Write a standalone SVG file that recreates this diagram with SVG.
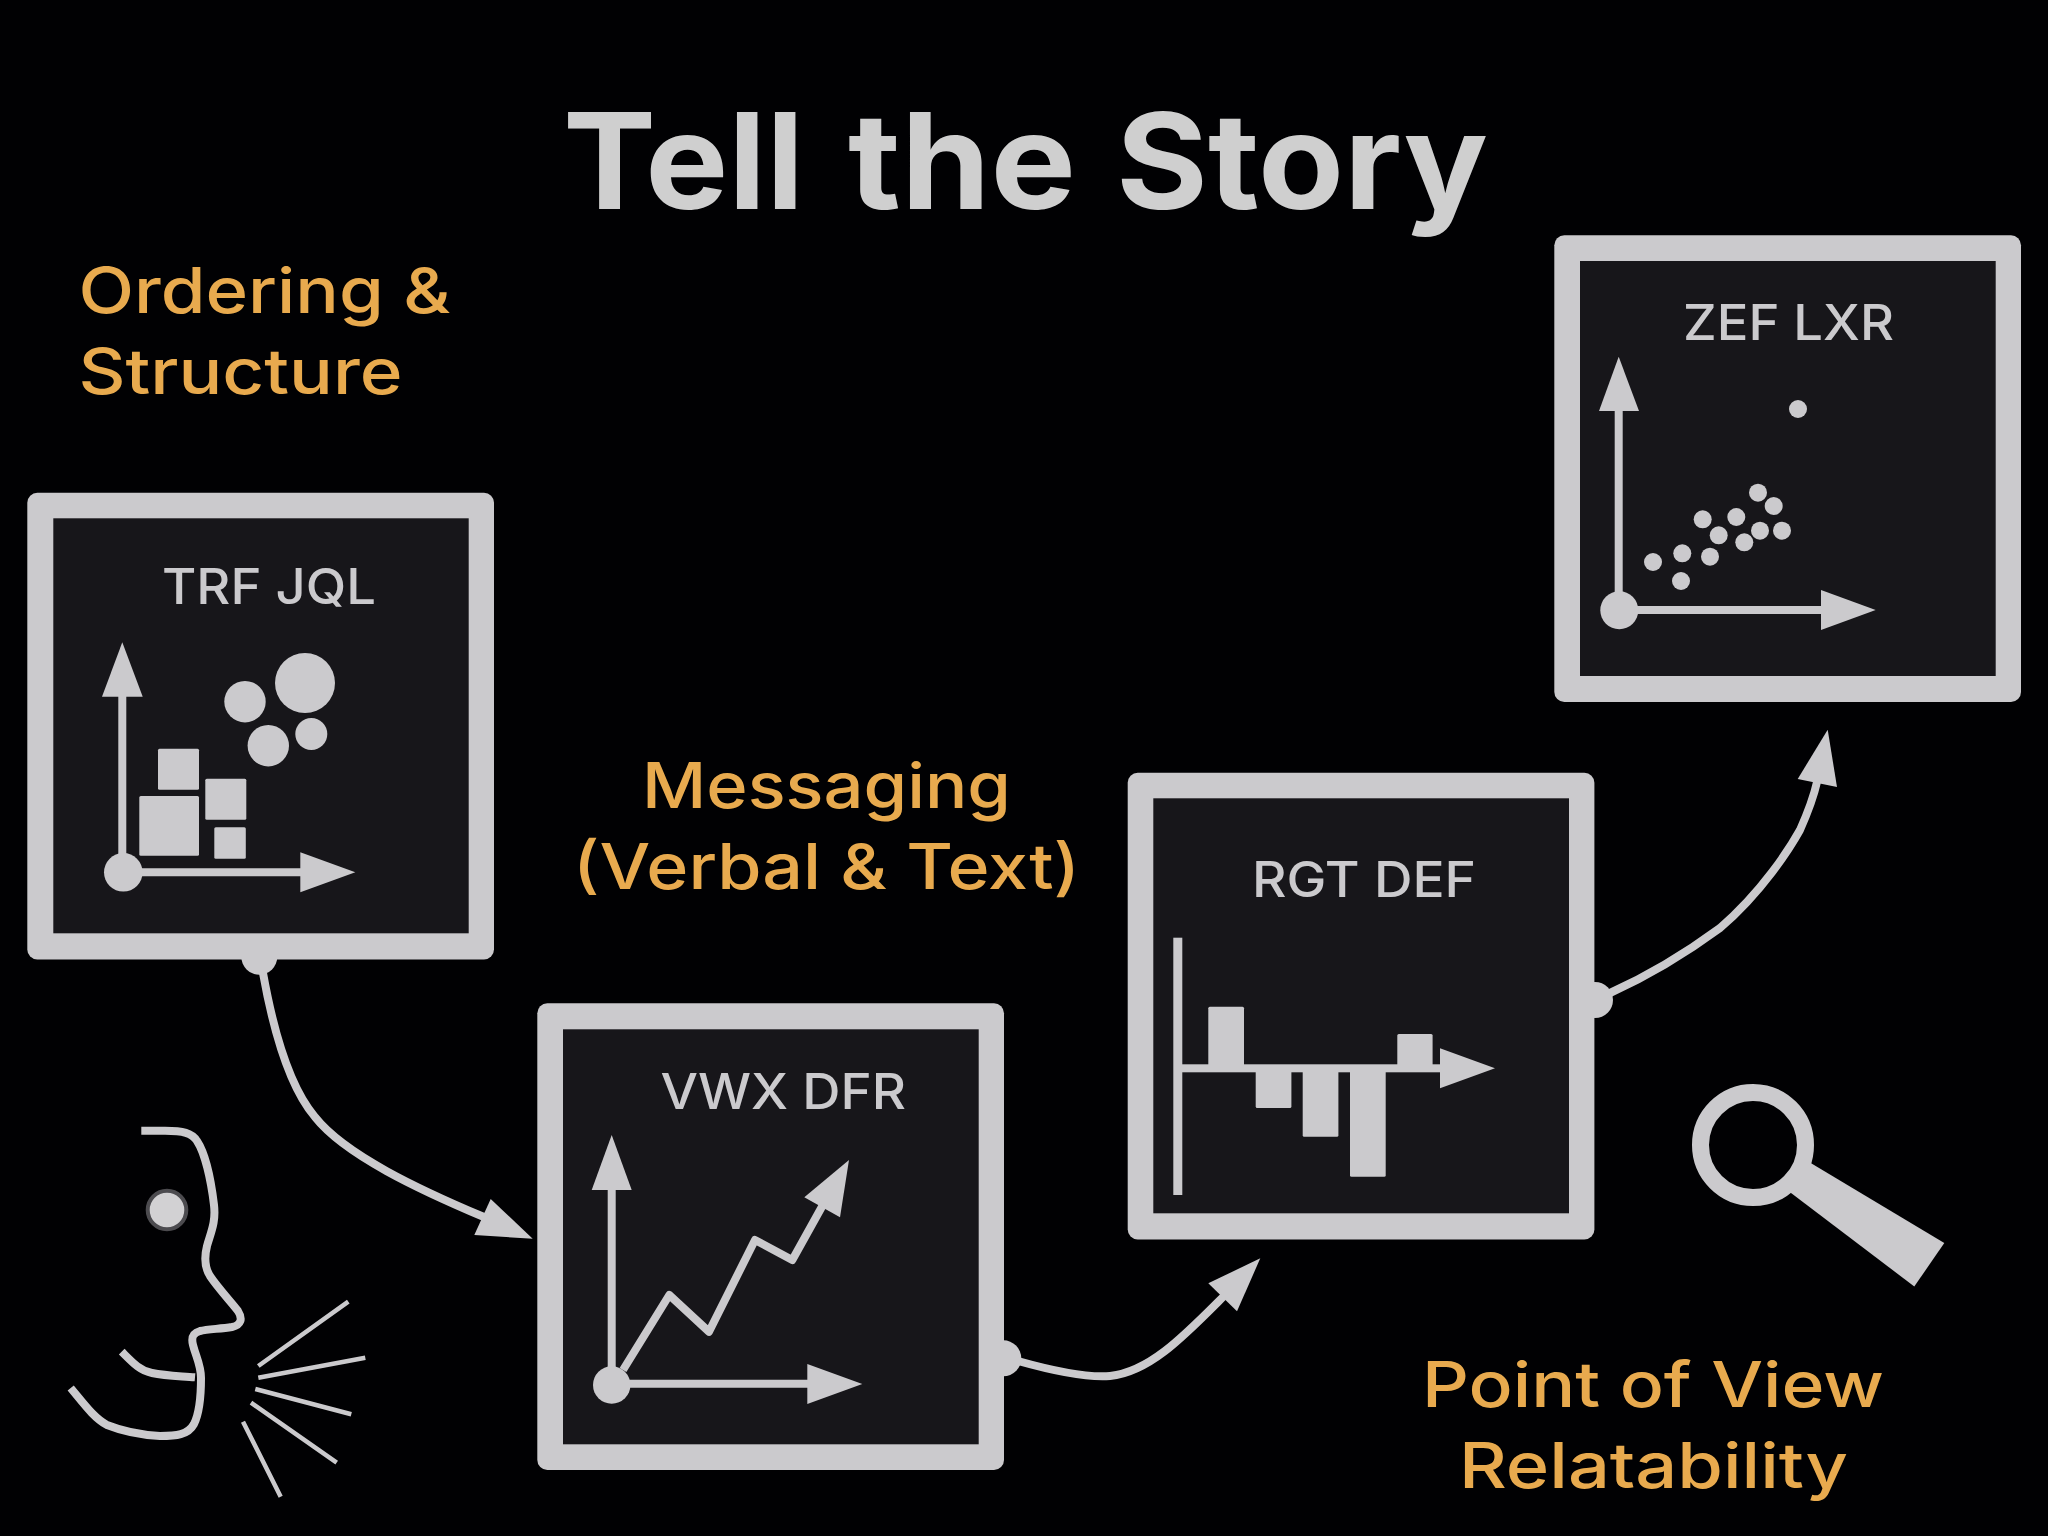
<svg xmlns="http://www.w3.org/2000/svg" width="2048" height="1536" viewBox="0 0 2048 1536">
<style>
.fg{fill:#cbcacd}
.panel{fill:#17161a}
.wire{fill:none;stroke:#cbcacd;stroke-width:8}
.ax{fill:none;stroke:#cbcacd;stroke-width:8}
.ray{stroke:#cbcacd;stroke-width:4.5;fill:none}
.face{fill:none;stroke:#cbcacd;stroke-width:8}
text{font-family:Inter,"Liberation Sans",sans-serif}
.title{font-size:133px;font-weight:700;fill:#cfcfcf}
.lab{font-size:63px;font-weight:500;fill:#e8aa4e}
.nm{font-size:50px;font-weight:500;fill:#cbcacd}
</style>
<rect width="2048" height="1536" fill="#010103"/>
<text id="title" class="title" y="209"><tspan x="563" textLength="241" lengthAdjust="spacingAndGlyphs">Tell</tspan> <tspan x="848" textLength="228" lengthAdjust="spacingAndGlyphs">the</tspan> <tspan x="1116" textLength="372" lengthAdjust="spacingAndGlyphs">Story</tspan></text>
<g id="label-ordering">
<text class="lab" x="78.5" y="313" textLength="372" lengthAdjust="spacingAndGlyphs">Ordering &amp;</text>
<text class="lab" x="78.5" y="394" textLength="324" lengthAdjust="spacingAndGlyphs">Structure</text>
</g>
<g id="label-messaging">
<text class="lab" x="642" y="808" textLength="369" lengthAdjust="spacingAndGlyphs">Messaging</text>
<text class="lab" x="573" y="889" textLength="507" lengthAdjust="spacingAndGlyphs">(Verbal &amp; Text)</text>
</g>
<g id="label-pov">
<text class="lab" x="1422" y="1407" textLength="462" lengthAdjust="spacingAndGlyphs">Point of View</text>
<text class="lab" x="1459" y="1488" textLength="389" lengthAdjust="spacingAndGlyphs">Relatability</text>
</g>
<g id="connectors">
<path class="wire" d="M263,973C275,1040 292,1090 315,1117C345,1155 420,1190 484,1217"/>
<polygon class="fg" points="532.7,1238.7 490.7,1199 474.3,1235"/>
<circle class="fg" cx="259.3" cy="956.7" r="18"/>
<path class="wire" d="M1018,1361C1050,1370 1085,1378 1110,1376C1150,1372 1185,1335 1224,1296"/>
<polygon class="fg" points="1260.3,1258.3 1208.3,1283.3 1237,1311.3"/>
<circle class="fg" cx="1003.3" cy="1358.3" r="18"/>
<path class="wire" d="M1610,993C1650,975 1690,950 1720,928C1762,892 1790,848 1800,830C1808,812 1813,800 1817,782"/>
<polygon class="fg" points="1827.7,729.7 1797.7,779 1837,787"/>
<circle class="fg" cx="1595" cy="1000" r="18"/>
</g>
<g id="node-trf">
<rect class="fg" x="27.3" y="492.7" width="466.7" height="466.7" rx="10"/>
<rect class="panel" x="53.3" y="518.3" width="415.4" height="415"/>
<text class="nm" x="162" y="604" textLength="214" lengthAdjust="spacingAndGlyphs">TRF JQL</text>
<path class="ax" d="M122.3,690V872M123,872.3H305"/>
<polygon class="fg" points="122.3,642.3 102,696.7 142.7,696.7"/>
<polygon class="fg" points="355.3,872.3 300.3,852.3 300.3,892.3"/>
<circle class="fg" cx="123.3" cy="872.3" r="19.3"/>
<circle class="fg" cx="305" cy="683" r="30"/>
<circle class="fg" cx="245" cy="701.7" r="20.7"/>
<circle class="fg" cx="268.3" cy="745.7" r="20.7"/>
<circle class="fg" cx="311.3" cy="734" r="16"/>
<rect class="fg" x="158" y="748.7" width="41" height="41" rx="1.5"/>
<rect class="fg" x="139.3" y="796" width="59.7" height="59.7" rx="1.5"/>
<rect class="fg" x="205.3" y="778.7" width="41" height="41" rx="1.5"/>
<rect class="fg" x="214.3" y="827.3" width="31.5" height="31.5" rx="1.5"/>
</g>
<g id="node-vwx">
<rect class="fg" x="537.3" y="1003.3" width="466.7" height="466.7" rx="10"/>
<rect class="panel" x="563" y="1029.3" width="415.7" height="415"/>
<text class="nm" x="660.5" y="1109" textLength="245.5" lengthAdjust="spacingAndGlyphs">VWX DFR</text>
<path class="ax" d="M611.7,1185V1385M612,1383.7H812"/>
<polygon class="fg" points="611.7,1135 591.7,1190 631.7,1190"/>
<polygon class="fg" points="862.3,1384 807.3,1364 807.3,1404"/>
<circle class="fg" cx="611.7" cy="1385" r="18.7"/>
<polyline class="ax" stroke-linejoin="round" points="623,1370 669.3,1295 709,1331.7 755,1240 792.3,1260 824,1203"/>
<polygon class="fg" points="849,1160 804.3,1197.3 840,1217.3"/>
</g>
<g id="node-rgt">
<rect class="fg" x="1127.7" y="772.7" width="466.7" height="466.7" rx="10"/>
<rect class="panel" x="1153.3" y="798.3" width="415.7" height="415"/>
<text class="nm" x="1252" y="896.7" textLength="224" lengthAdjust="spacingAndGlyphs">RGT DEF</text>
<rect class="fg" x="1173.3" y="937.7" width="9" height="257.3"/>
<rect class="fg" x="1182" y="1064.3" width="262" height="8"/>
<polygon class="fg" points="1495,1068.3 1440,1048.3 1440,1088.3"/>
<rect class="fg" x="1208.3" y="1006.7" width="35.7" height="60" rx="1.5"/>
<rect class="fg" x="1255.7" y="1070" width="35.7" height="38" rx="1.5"/>
<rect class="fg" x="1302.7" y="1070" width="35.7" height="66.7" rx="1.5"/>
<rect class="fg" x="1350" y="1070" width="35.7" height="106.7" rx="1.5"/>
<rect class="fg" x="1397.3" y="1034" width="35.3" height="32" rx="1.5"/>
</g>
<g id="node-zef">
<rect class="fg" x="1554.3" y="235.3" width="466.7" height="466.7" rx="10"/>
<rect class="panel" x="1580" y="261" width="415.7" height="415"/>
<text class="nm" x="1683" y="340" textLength="211" lengthAdjust="spacingAndGlyphs">ZEF LXR</text>
<path class="ax" d="M1618.7,405V610M1619,610H1826"/>
<polygon class="fg" points="1618.7,356.7 1599,411 1639,411"/>
<polygon class="fg" points="1875.7,610 1821,590 1821,630"/>
<circle class="fg" cx="1619.3" cy="610.3" r="19"/>
<g class="fg">
<circle cx="1798" cy="409" r="9"/><circle cx="1758" cy="492.7" r="9"/><circle cx="1773.7" cy="506" r="9"/>
<circle cx="1736.3" cy="517" r="9"/><circle cx="1702.7" cy="519.3" r="9"/><circle cx="1718.7" cy="535.3" r="9"/>
<circle cx="1760" cy="530.7" r="9"/><circle cx="1782" cy="530.7" r="9"/><circle cx="1744.3" cy="542.3" r="9"/>
<circle cx="1710" cy="556.7" r="9"/><circle cx="1682.3" cy="553.3" r="9"/><circle cx="1653" cy="562" r="9"/>
<circle cx="1681" cy="581" r="9"/>
</g>
</g>
<g id="face">
<path class="face" d="M141.3,1130.7H165C183,1130.7 192,1133 197,1141C205,1153 211,1180 214,1205C216,1222 211,1232 207,1246C204,1258 205,1268 210,1276C218,1288 232,1303 238,1311C243,1319 241,1325 232,1327C220,1329 208,1329 200,1331C193,1333 191,1337 193,1345C196,1357 201,1365 201,1378C201,1395 200,1412 194,1424C188,1435 176,1436 160,1436C142,1435 122,1431 107,1425C94,1418 84,1404 70.7,1388"/>
<path class="face" d="M121.7,1351.7C132,1362 140,1371 152,1373C166,1376 180,1376 195,1377.3"/>
<circle cx="167" cy="1210" r="19.3" fill="#d2d1d3" stroke="#4c4b4f" stroke-width="4"/>
<path class="ray" d="M258.3,1366L348.3,1301.7M258.3,1377.7L365.3,1357.7M255.3,1389L351.3,1414.3M251,1402.7L336.7,1462.7M243,1421.7L280.7,1496.7"/>
</g>
<g id="magnifier">
<circle cx="1753" cy="1145" r="52.5" fill="none" stroke="#cbcacd" stroke-width="17"/>
<polygon class="fg" points="1810.7,1163 1944.3,1243 1914.3,1286.5 1790.7,1192.7"/>
</g>
</svg>
